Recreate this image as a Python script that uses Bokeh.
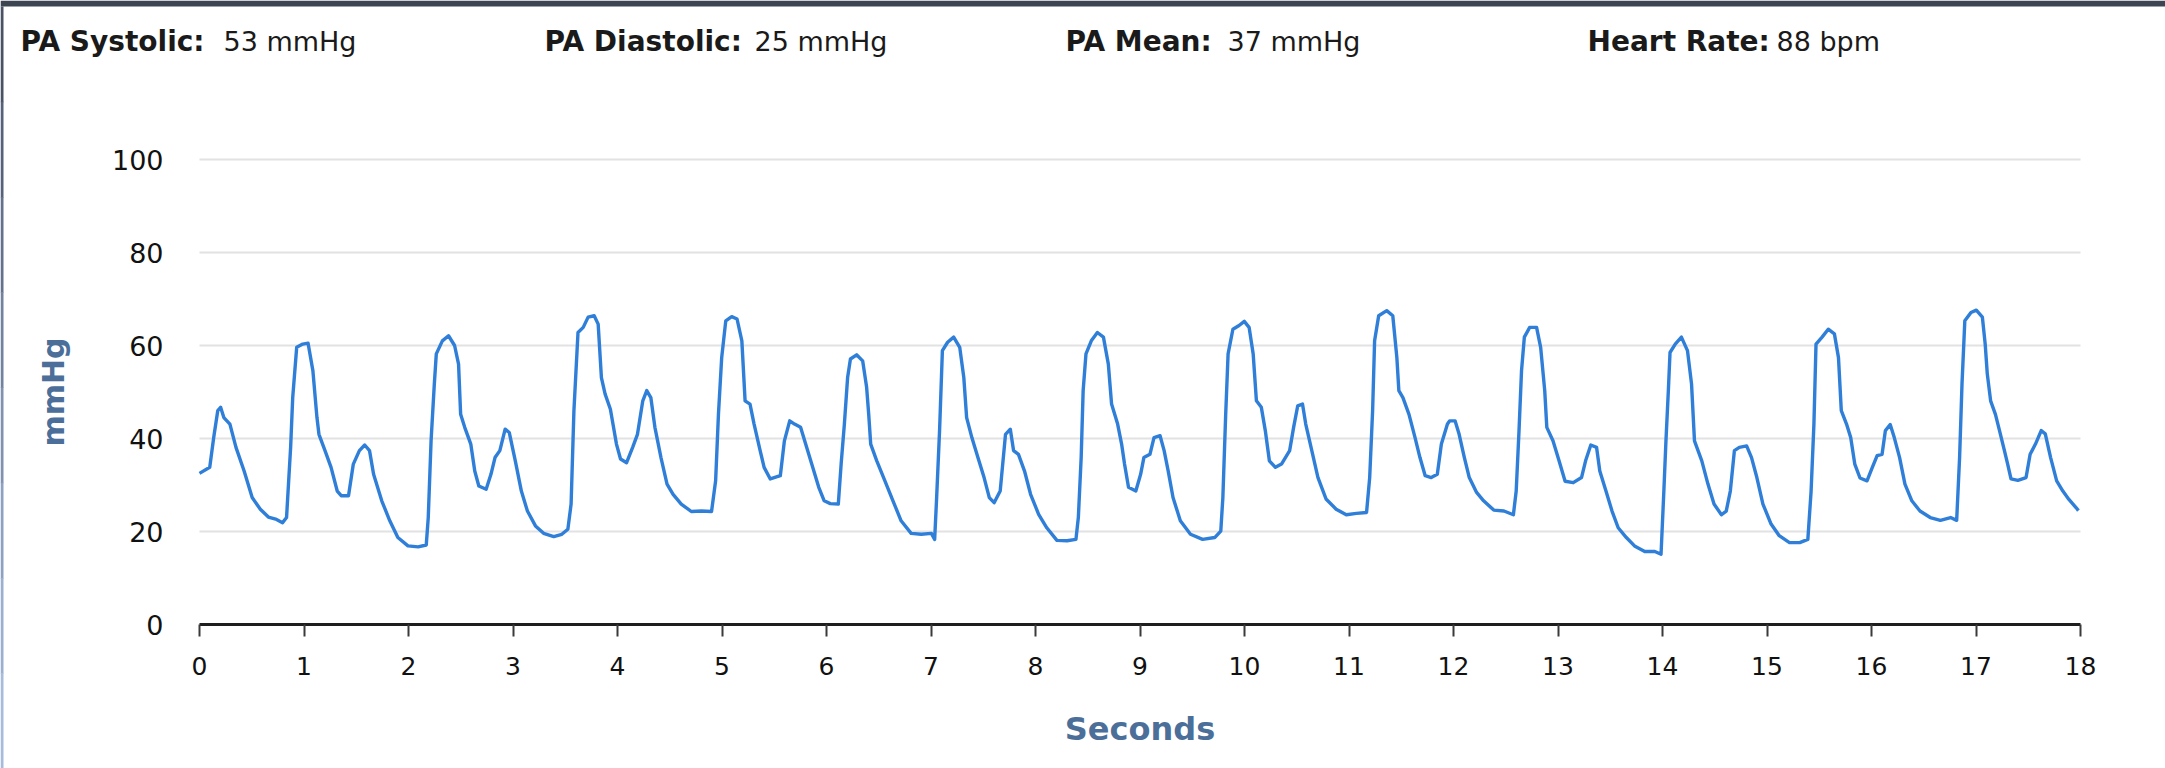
from bokeh.plotting import figure
from bokeh.models import Range1d, FixedTicker
from bokeh.core.properties import value
from bokeh.embed import file_html
from bokeh.resources import INLINE

# ---------------- data ----------------
seconds = [
    0.000, 0.098, 0.136, 0.175, 0.202, 0.233, 0.291, 0.349, 0.427, 0.504, 0.582, 0.659, 0.737, 0.795,
    0.833, 0.872, 0.892, 0.930, 0.988, 1.039, 1.085, 1.124, 1.143, 1.201, 1.259, 1.318, 1.356, 1.426,
    1.472, 1.530, 1.581, 1.627, 1.666, 1.744, 1.821, 1.898, 1.995, 2.092, 2.170, 2.189, 2.216, 2.247,
    2.266, 2.324, 2.383, 2.441, 2.479, 2.499, 2.538, 2.596, 2.634, 2.673, 2.743, 2.789, 2.828, 2.874,
    2.925, 2.964, 3.022, 3.080, 3.138, 3.215, 3.293, 3.390, 3.467, 3.525, 3.556, 3.583, 3.622, 3.672,
    3.719, 3.777, 3.815, 3.846, 3.881, 3.932, 3.990, 4.029, 4.087, 4.145, 4.191, 4.242, 4.280, 4.319,
    4.358, 4.416, 4.474, 4.532, 4.610, 4.706, 4.803, 4.900, 4.939, 4.966, 4.997, 5.036, 5.093, 5.144,
    5.190, 5.221, 5.268, 5.307, 5.365, 5.403, 5.462, 5.558, 5.597, 5.648, 5.694, 5.752, 5.810, 5.868,
    5.926, 5.978, 6.036, 6.113, 6.140, 6.171, 6.202, 6.229, 6.288, 6.346, 6.384, 6.404, 6.423, 6.481,
    6.559, 6.636, 6.714, 6.810, 6.907, 7.004, 7.035, 7.054, 7.082, 7.109, 7.159, 7.217, 7.275, 7.314,
    7.341, 7.391, 7.449, 7.508, 7.558, 7.604, 7.662, 7.713, 7.759, 7.790, 7.837, 7.895, 7.953, 8.030,
    8.108, 8.205, 8.302, 8.387, 8.410, 8.437, 8.456, 8.483, 8.534, 8.592, 8.650, 8.697, 8.728, 8.786,
    8.824, 8.852, 8.890, 8.960, 9.006, 9.037, 9.095, 9.134, 9.192, 9.231, 9.270, 9.316, 9.386, 9.483,
    9.599, 9.715, 9.773, 9.793, 9.820, 9.843, 9.889, 9.948, 9.998, 10.044, 10.083, 10.114, 10.161,
    10.199, 10.238, 10.296, 10.354, 10.432, 10.470, 10.509, 10.555, 10.586, 10.644, 10.703, 10.780,
    10.877, 10.974, 11.071, 11.168, 11.198, 11.226, 11.245, 11.284, 11.361, 11.419, 11.458, 11.477,
    11.516, 11.574, 11.632, 11.679, 11.729, 11.787, 11.845, 11.884, 11.942, 11.964, 12.015, 12.054,
    12.104, 12.151, 12.221, 12.288, 12.385, 12.483, 12.573, 12.600, 12.627, 12.651, 12.678, 12.729,
    12.795, 12.834, 12.873, 12.893, 12.952, 13.010, 13.068, 13.146, 13.225, 13.264, 13.314, 13.369,
    13.400, 13.459, 13.517, 13.576, 13.654, 13.732, 13.830, 13.927, 13.986, 14.013, 14.033, 14.056,
    14.072, 14.122, 14.181, 14.239, 14.278, 14.306, 14.376, 14.435, 14.493, 14.564, 14.610, 14.649,
    14.688, 14.735, 14.805, 14.852, 14.903, 14.961, 15.039, 15.117, 15.215, 15.313, 15.391, 15.422,
    15.449, 15.469, 15.527, 15.586, 15.645, 15.684, 15.711, 15.761, 15.801, 15.840, 15.890, 15.957,
    16.008, 16.054, 16.101, 16.133, 16.179, 16.218, 16.269, 16.320, 16.386, 16.464, 16.562, 16.659,
    16.757, 16.815, 16.843, 16.866, 16.893, 16.952, 17.003, 17.061, 17.088, 17.108, 17.140, 17.186,
    17.225, 17.272, 17.303, 17.335, 17.401, 17.479, 17.518, 17.569, 17.624, 17.663, 17.714, 17.772,
    17.831, 17.889, 17.959, 17.980,
]
mmhg = [
    32.5, 33.8, 40.2, 46.0, 46.7, 44.5, 43.1, 38.1, 33.0, 27.3, 24.8, 23.1, 22.6, 21.9,
    23.0, 38.1, 48.8, 59.6, 60.3, 60.5, 54.6, 44.5, 40.9, 37.4, 33.8, 28.7, 27.7, 27.7,
    34.5, 37.4, 38.6, 37.4, 32.3, 26.6, 22.3, 18.7, 16.9, 16.7, 17.1, 23.0, 39.5, 51.7,
    58.2, 61.0, 62.1, 60.0, 56.0, 45.2, 42.4, 38.8, 33.0, 29.8, 29.1, 32.3, 35.9, 37.4,
    42.0, 41.3, 35.2, 28.7, 24.4, 21.2, 19.6, 18.9, 19.4, 20.5, 25.9, 46.0, 62.8, 63.9,
    66.1, 66.4, 64.6, 53.1, 49.6, 46.3, 38.8, 35.6, 34.8, 38.1, 40.9, 48.1, 50.3, 48.8,
    42.4, 35.9, 30.2, 28.0, 25.9, 24.3, 24.4, 24.3, 30.9, 45.2, 57.4, 65.3, 66.2, 65.7,
    61.0, 48.1, 47.4, 43.1, 37.4, 33.8, 31.3, 32.0, 39.5, 43.8, 43.1, 42.4, 38.1, 33.8,
    29.5, 26.6, 26.0, 25.9, 34.5, 43.1, 53.1, 57.1, 58.0, 56.7, 51.0, 45.2, 38.8, 35.2,
    30.9, 26.6, 22.3, 19.6, 19.4, 19.6, 18.3, 27.3, 41.7, 58.9, 60.7, 61.8, 59.6, 53.1,
    44.5, 40.2, 35.9, 31.6, 27.3, 26.2, 28.7, 40.9, 42.0, 37.4, 36.6, 33.0, 28.0, 23.7,
    20.8, 18.1, 18.0, 18.3, 23.0, 35.9, 50.3, 58.2, 61.0, 62.8, 61.8, 56.0, 47.4, 43.1,
    38.8, 34.5, 29.5, 28.7, 32.3, 35.9, 36.6, 40.2, 40.6, 37.4, 33.0, 27.3, 22.3, 19.4,
    18.3, 18.7, 20.1, 27.3, 45.2, 58.2, 63.5, 64.3, 65.2, 63.9, 58.2, 48.1, 46.7,
    41.7, 35.2, 33.8, 34.5, 37.4, 42.4, 47.0, 47.4, 43.1, 37.4, 31.6, 27.0,
    24.8, 23.6, 23.9, 24.1, 31.6, 46.0, 61.0, 66.4, 67.5, 66.4, 57.4, 50.3,
    48.8, 45.2, 40.2, 35.9, 32.0, 31.6, 32.3, 38.8, 43.1, 43.8, 43.8, 40.9,
    35.9, 31.6, 28.4, 26.6, 24.6, 24.4, 23.6, 28.7, 41.7, 54.6, 61.8, 63.9,
    63.9, 59.6, 50.3, 42.4, 39.5, 35.2, 30.8, 30.5, 31.6, 35.2, 38.6, 38.1,
    33.0, 28.7, 24.4, 20.8, 18.7, 16.9, 15.7, 15.7, 15.1, 28.7, 39.5, 50.3,
    58.5, 60.3, 61.8, 58.9, 51.7, 39.5, 35.2, 30.2, 25.9, 23.6, 24.4, 28.7,
    37.4, 38.1, 38.4, 35.9, 31.6, 25.9, 21.6, 19.1, 17.6, 17.6, 18.3, 28.7,
    43.1, 60.3, 61.8, 63.5, 62.5, 57.4, 46.0, 43.1, 40.2, 34.5, 31.5, 30.9,
    33.8, 36.3, 36.6, 41.7, 43.0, 40.2, 35.9, 30.2, 26.6, 24.4, 23.0, 22.4,
    23.0, 22.4, 35.9, 51.7, 65.3, 67.1, 67.6, 66.1, 60.3, 53.9, 48.1, 45.2,
    41.7, 37.4, 34.5, 31.3, 31.0, 31.6, 36.6, 38.8, 41.7, 41.0, 35.9, 30.9,
    28.7, 26.9, 25.1, 24.5,
]

x_ticks = list(range(0, 19))
y_ticks = [0, 20, 40, 60, 80, 100]
grid_ticks = [20, 40, 60, 80, 100]
x_span = (0, 18)
y_span = (0, 100)

header_keys = ["PA Systolic:", "PA Diastolic:", "PA Mean:", "Heart Rate:"]
header_values = ["53 mmHg", "25 mmHg", "37 mmHg", "88 bpm"]

# ---------------- layout (pixels) ----------------
W, H = 2165, 768
X0_PX, X18_PX = 199.0, 2080.0        # where 0 s and 18 s sit on the canvas
Y0_PX, Y100_PX = 624.0, 159.0        # where 0 and 100 mmHg sit on the canvas
SX = (X18_PX - X0_PX) / (x_span[1] - x_span[0])
SY = (Y0_PX - Y100_PX) / (y_span[1] - y_span[0])


def dx(px):
    return (px - X0_PX) / SX


def dy(py):
    return (Y0_PX - py) / SY


key_px = [20, 544, 1065, 1587]
val_px = [223, 754, 1227, 1776]
HEADER_BASELINE_PX = 41
TOP_BAR_PX = 6
LEFT_BORDER_PX = 3
border_cols = ["#4a5366", "#56617a", "#64718c", "#73829e", "#8191b0", "#8fa1c1", "#9cafd0", "#a8bbdd"]

LINE_BLUE = "#2f7fd9"
AXIS_BLUE = "#4b6f99"
TEXT_FONT = "DejaVu Sans"

p = figure(width=W, height=H, x_range=Range1d(dx(0), dx(W)), y_range=Range1d(dy(H), dy(0)),
           output_backend="svg", toolbar_location=None, title=None, min_border=0)
p.outline_line_color = None
p.background_fill_color = "white"
p.border_fill_color = "white"
p.xgrid.visible = False
p.ygrid.visible = False

# horizontal grid lines, limited to the 0..18 s span
p.segment(x0=[x_span[0]] * len(grid_ticks), x1=[x_span[1]] * len(grid_ticks),
          y0=grid_ticks, y1=grid_ticks, line_color="#e2e2e2", line_width=2)

# x axis (pinned at y = 0)
xa = p.xaxis[0]
xa.fixed_location = 0
xa.bounds = x_span
xa.ticker = FixedTicker(ticks=x_ticks)
xa.axis_line_color = "#1e1e1e"
xa.axis_line_width = 3
xa.major_tick_out = 12
xa.major_tick_in = 0
xa.major_tick_line_color = "#3a3a3a"
xa.major_tick_line_width = 2
xa.minor_tick_line_color = None
xa.major_label_text_font = TEXT_FONT
xa.major_label_text_font_size = "25px"
xa.major_label_text_color = "#111111"
xa.major_label_standoff = 20
xa.axis_label = "Seconds"
xa.axis_label_text_font = TEXT_FONT
xa.axis_label_text_font_style = "bold"
xa.axis_label_text_font_size = "32px"
xa.axis_label_text_color = AXIS_BLUE
xa.axis_label_standoff = 32

# y axis (pinned at x = 0)
ya = p.yaxis[0]
ya.fixed_location = 0
ya.bounds = y_span
ya.ticker = FixedTicker(ticks=y_ticks)
ya.axis_line_color = None
ya.major_tick_line_color = None
ya.minor_tick_line_color = None
ya.major_tick_out = 0
ya.major_tick_in = 0
ya.major_label_text_font = TEXT_FONT
ya.major_label_text_font_size = "27px"
ya.major_label_text_color = "#111111"
ya.major_label_standoff = 36
ya.axis_label = "mmHg"
ya.axis_label_text_font = TEXT_FONT
ya.axis_label_text_font_style = "bold"
ya.axis_label_text_font_size = "30px"
ya.axis_label_text_color = AXIS_BLUE
ya.axis_label_standoff = 38

# waveform
p.line(seconds, mmhg, line_color=LINE_BLUE, line_width=3.4, line_join="round")

# page chrome: top dark bar and left gradient border
p.quad(left=[dx(0)], right=[dx(W)], top=[dy(0)], bottom=[dy(TOP_BAR_PX)],
       fill_color="#3d4452", line_color=None)
seg = (H - TOP_BAR_PX) / len(border_cols)
p.quad(left=[dx(0)] * len(border_cols), right=[dx(LEFT_BORDER_PX)] * len(border_cols),
       top=[dy(TOP_BAR_PX + i * seg) for i in range(len(border_cols))],
       bottom=[dy(TOP_BAR_PX + (i + 1) * seg + 0.5) for i in range(len(border_cols))],
       fill_color=border_cols, line_color=None)

# header readings
p.text(x=[dx(v) for v in key_px], y=[dy(HEADER_BASELINE_PX)] * len(key_px), text=header_keys,
       text_font=value(TEXT_FONT), text_font_style="bold", text_font_size="28px",
       text_color="#1a1a1a", text_baseline="alphabetic", text_align="left")
p.text(x=[dx(v) for v in val_px], y=[dy(HEADER_BASELINE_PX)] * len(val_px), text=header_values,
       text_font=value(TEXT_FONT), text_font_size="27px",
       text_color="#1a1a1a", text_baseline="alphabetic", text_align="left")

html = file_html(p, INLINE)
html = html.replace("</head>", "<style>html,body{margin:0;padding:0;overflow:hidden;}</style></head>", 1)
open("out.html", "w").write(html)
